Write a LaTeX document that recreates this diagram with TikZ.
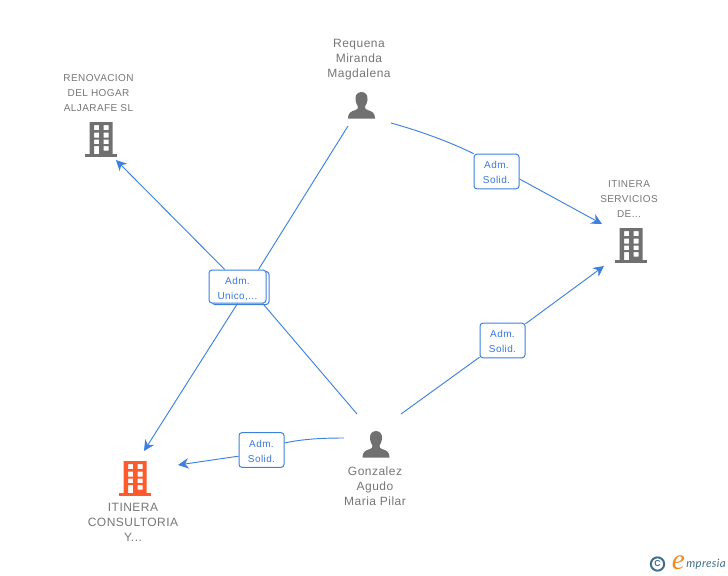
\documentclass[tikz,border=0pt]{standalone}
\usepackage{fontspec}
\setmainfont{Liberation Sans}
\newfontfamily\lblfont[LetterSpace=4]{Liberation Sans}
\newfontfamily\logofont[LetterSpace=3]{Lato}
\newfontfamily\logoe{Liberation Serif}
\usetikzlibrary{arrows.meta}
\definecolor{linkblue}{HTML}{3D80E0}
\definecolor{boxtext}{HTML}{3A78D8}
\definecolor{iconorange}{HTML}{FF5A2C}
\definecolor{icongray}{HTML}{707070}
\definecolor{labelgray}{HTML}{767676}
\definecolor{logoblue}{HTML}{3F6E8C}
\definecolor{logoorange}{HTML}{F08A24}
\newcommand\btop{\rule{0pt}{7.5pt}}
\newcommand\utop{\rule{0pt}{9.5pt}}
\tikzset{
  x=0.75pt,y=-0.75pt,
  conn/.style={draw=linkblue,line width=0.7pt},
  arrowconn/.style={conn,-{Stealth[length=8pt,width=8pt,inset=2.6pt]}},
  relbox/.style={draw=linkblue,fill=white,rounded corners=2.2pt,line width=0.75pt,inner sep=0pt,
    minimum width=33.75pt,minimum height=26pt,text=boxtext,align=center,
    font=\lblfont\fontsize{7.5}{11.25}\selectfont},
  namelabel/.style={text=labelgray,align=center,inner sep=0pt,font=\lblfont\fontsize{9}{11.25}\selectfont},
  smalllabel/.style={text=labelgray,align=center,inner sep=0pt,font=\lblfont\fontsize{7.5}{11.25}\selectfont},
  pics/building/.style={code={
    \fill[#1] (-16,-1.5) rectangle (16,1.5);
    \fill[#1,even odd rule] (-11.5,0) rectangle (11.5,-33)
      (-7,-30) rectangle (-2,-25) (2.5,-30) rectangle (7.5,-25)
      (-7,-22.5) rectangle (-2,-17.5) (2.5,-22.5) rectangle (7.5,-17.5)
      (-7,-15.5) rectangle (-2,-11) (2.5,-15.5) rectangle (7.5,-11)
      (-7,-9) rectangle (-2,0) (2.5,-9) rectangle (7.5,-4.5);
  }},
  pics/person/.style={code={
    \fill[icongray] (0,-26.5) .. controls (-5,-26.5) and (-6.5,-22) .. (-6,-18.5)
      .. controls (-5.7,-15.5) and (-4.5,-13.5) .. (-3.5,-12)
      .. controls (-3.5,-10) and (-4,-9) .. (-6,-8.5)
      .. controls (-11,-7) and (-13.5,-5.5) .. (-13.5,0)
      -- (13.5,0)
      .. controls (13.5,-5.5) and (11,-7) .. (6,-8.5)
      .. controls (4,-9) and (3.5,-10) .. (3.5,-12)
      .. controls (4.5,-13.5) and (5.7,-15.5) .. (6,-18.5)
      .. controls (6.5,-22) and (5,-26.5) .. (0,-26.5) -- cycle;
  }}
}
\begin{document}
\begin{tikzpicture}
\useasboundingbox (0,0) rectangle (728,575);

% free ends of the connectors
\coordinate (reqA) at (348,126);
\coordinate (reqB) at (391,123);
\coordinate (gonA) at (357,414);
\coordinate (gonB) at (401,414);
\coordinate (gonC) at (344,438);
\coordinate (renIn) at (116,160);
\coordinate (consA) at (144,451);
\coordinate (consB) at (178,465);
\coordinate (servA) at (602,224);
\coordinate (servB) at (604,266);

% relation boxes
\node[relbox,minimum width=42.75pt,minimum height=24.75pt] (unicoB) at (240.5,288) {};
\node[relbox,minimum width=42.75pt,minimum height=24.75pt] (unico) at (237.5,286.5) {\utop Adm.\\Unico,...};
\node[relbox] (solA) at (496.5,171.5) {\btop Adm.\\Solid.};
\node[relbox] (solB) at (502.5,340.5) {\btop Adm.\\Solid.};
\node[relbox] (solC) at (261.5,450) {\btop Adm.\\Solid.};

% connectors
\draw[conn] (reqA) -- (unico.39);
\draw[arrowconn] (unico.127) -- (renIn);
\draw[arrowconn] (unico.270) -- (consA);
\draw[conn] (gonA) -- (unico.326);
\draw[conn] (reqB) .. controls (420,131) and (450,142) .. (solA.142);
\draw[arrowconn] (solA.-18) -- (servA);
\draw[conn] (gonB) -- (solB.216);
\draw[arrowconn] (solB.36) -- (servB);
\draw[conn] (gonC) .. controls (322,438) and (303,439) .. (solC.17);
\draw[arrowconn] (solC.195) -- (consB);

% icons
\pic at (101,155) {building=icongray};
\pic at (631,261) {building=icongray};
\pic at (135,494) {building=iconorange};
\pic at (361.5,118.5) {person};
\pic at (376,457.5) {person};

% labels
\node[namelabel] (lreq) at (359,59.5) {Requena\\Miranda\\Magdalena};
\node[smalllabel] (lren) at (98.5,93.5) {RENOVACION\\DEL HOGAR\\ALJARAFE SL};
\node[smalllabel] (lserv) at (629,199) {ITINERA\\SERVICIOS\\DE...};
\node[namelabel] (lgon) at (375,486) {Gonzalez\\Agudo\\Maria Pilar};
\node[namelabel] (lcons) at (133,522) {ITINERA\\CONSULTORIA\\Y...};

% logo
\node[circle,draw=logoblue,line width=1.5pt,minimum size=10pt,inner sep=0pt,text=logoblue,
  font=\bfseries\fontsize{6.5}{6.5}\selectfont] (copy) at (657.5,564) {C};
\node[anchor=base,inner sep=0pt,text=logoorange,font=\logoe\itshape\fontsize{22}{22}\selectfont] (loge) at (678.5,569) {e};
\node[inner sep=0pt,anchor=base west,text=logoblue,font=\logofont\itshape\fontsize{8.6}{10}\selectfont] (logot) at (686,567.5) {mpresia};
\end{tikzpicture}
\end{document}
